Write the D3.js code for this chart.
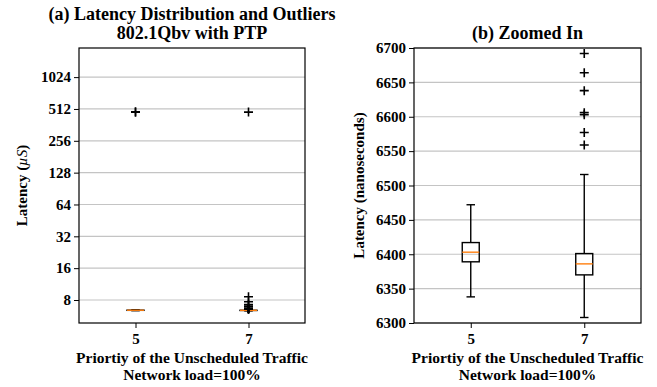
<!DOCTYPE html>
<html>
<head>
<meta charset="utf-8">
<script src="https://cdn.jsdelivr.net/npm/d3@7"></script>
<style>
  body { margin: 0; background: #fff; }
  svg text { font-family: "Liberation Serif", "DejaVu Serif", serif !important; font-weight: bold; }
  .ejes text { font-size: 15px; }
  .ejes path, .ejes line { stroke: #000; }
</style>
</head>
<body>
<div id="graf"></div>
<script>
// datos (latencia en nanosegundos)
const categorias = ["5", "7"]
const q1 = [6389, 6370]
const mediana = [6403, 6386]
const q3 = [6417, 6401]
const bigoteBajo = [6338, 6308]
const bigoteAlto = [6472, 6516]
const outliers5 = [476000, 481000]
const outliers7 = [6559, 6577, 6603, 6606, 6638, 6664, 6692, 7000, 7250, 7700, 8600, 478000]
const ticksLog = [8, 16, 32, 64, 128, 256, 512, 1024]
const ticksLin = [6300, 6350, 6400, 6450, 6500, 6550, 6600, 6650, 6700]

const cajas = categorias.map((c, i) => ({
  cat: c, q1: q1[i], med: mediana[i], q3: q3[i],
  lo: bigoteBajo[i], hi: bigoteAlto[i],
  out: i === 0 ? outliers5 : outliers7
}))

const svg = d3.select("#graf").append("svg").attr("width", 657).attr("height", 387)

const panel = (opc) => {
  const { x0, x1, y0, y1, y, escala, ticks, fmt, titulo, ylabel, ylabelX, id } = opc
  const g = svg.append("g")
  const x = d3.scalePoint().domain(categorias).range([x0, x1]).padding(0.5)
  const ancho = 17

  svg.append("clipPath").attr("id", id).append("rect")
    .attr("x", x0).attr("y", y1).attr("width", x1 - x0).attr("height", y0 - y1)

  // grid
  g.selectAll(".grid").data(ticks).enter().append("line")
    .attr("x1", x0).attr("x2", x1)
    .attr("y1", d => y(d)).attr("y2", d => y(d))
    .attr("stroke", "#c4c4c4").attr("stroke-width", 1.2)

  const cg = g.append("g").attr("clip-path", `url(#${id})`)
  cajas.forEach(b => {
    const cx = x(b.cat)
    const v = d => y(d / escala)
    cg.append("line").attr("x1", cx).attr("x2", cx).attr("y1", v(b.q1)).attr("y2", v(b.lo))
      .attr("stroke", "#000").attr("stroke-width", 1.4)
    cg.append("line").attr("x1", cx).attr("x2", cx).attr("y1", v(b.q3)).attr("y2", v(b.hi))
      .attr("stroke", "#000").attr("stroke-width", 1.4)
    ;[b.lo, b.hi].forEach(w => cg.append("line")
      .attr("x1", cx - ancho / 4).attr("x2", cx + ancho / 4).attr("y1", v(w)).attr("y2", v(w))
      .attr("stroke", "#000").attr("stroke-width", 1.4))
    cg.append("rect").attr("x", cx - ancho / 2).attr("width", ancho)
      .attr("y", v(b.q3)).attr("height", v(b.q1) - v(b.q3))
      .attr("fill", "none").attr("stroke", "#000").attr("stroke-width", 1.4)
    cg.append("line").attr("x1", cx - ancho / 2).attr("x2", cx + ancho / 2)
      .attr("y1", v(b.med)).attr("y2", v(b.med))
      .attr("stroke", "#ff7f0e").attr("stroke-width", 1.4)
    cg.selectAll(null).data(b.out).enter().append("path")
      .attr("d", d => `M${cx - 4.5},${v(d)}h9M${cx},${v(d) - 4.5}v9`)
      .attr("stroke", "#000").attr("stroke-width", 1.6)
  })

  // marco
  g.append("rect").attr("x", x0).attr("y", y1).attr("width", x1 - x0).attr("height", y0 - y1)
    .attr("fill", "none").attr("stroke", "#000").attr("stroke-width", 1.2)

  g.append("g").attr("class", "ejes").attr("transform", `translate(${x0},0)`)
    .call(d3.axisLeft(y).tickValues(ticks).tickFormat(fmt).tickSize(5).tickPadding(3))
    .call(s => s.select(".domain").remove())
  g.append("g").attr("class", "ejes").attr("transform", `translate(0,${y0})`)
    .call(d3.axisBottom(x).tickSize(5).tickPadding(5))
    .call(s => s.select(".domain").remove())

  const cx = (x0 + x1) / 2
  titulo.forEach((t, i) => g.append("text").attr("x", cx).attr("y", opc.tituloY + i * 19)
    .attr("text-anchor", "middle").attr("font-size", 18).text(t))
  g.append("text").attr("x", cx).attr("y", 363).attr("text-anchor", "middle")
    .attr("font-size", 15.5).text("Priortiy of the Unscheduled Traffic")
  g.append("text").attr("x", cx).attr("y", 380).attr("text-anchor", "middle")
    .attr("font-size", 15.5).text("Network load=100%")
  const yl = g.append("text")
    .attr("transform", `translate(${ylabelX},${(y0 + y1) / 2}) rotate(-90)`)
    .attr("text-anchor", "middle").attr("font-size", 15)
  ylabel(yl)
}

const yLog = d3.scaleLog().base(2).domain([4.85, 1930]).range([323, 48])
panel({
  id: "clipA", x0: 79, x1: 305, y0: 323, y1: 48, y: yLog, escala: 1000,
  ticks: ticksLog, fmt: d3.format("d"),
  titulo: ["(a) Latency Distribution and Outliers", "802.1Qbv with PTP"], tituloY: 20,
  ylabelX: 27,
  ylabel: t => {
    t.append("tspan").text("Latency (")
    t.append("tspan").attr("style", "font-style: italic; font-weight: normal").text("µS")
    t.append("tspan").text(")")
  }
})

const yLin = d3.scaleLinear().domain([6300, 6700]).range([323, 48])
panel({
  id: "clipB", x0: 414, x1: 641, y0: 323, y1: 48, y: yLin, escala: 1,
  ticks: ticksLin, fmt: d3.format("d"),
  titulo: ["(b) Zoomed In"], tituloY: 39,
  ylabelX: 364,
  ylabel: t => t.text("Latency (nanoseconds)")
})
</script>
</body>
</html>
